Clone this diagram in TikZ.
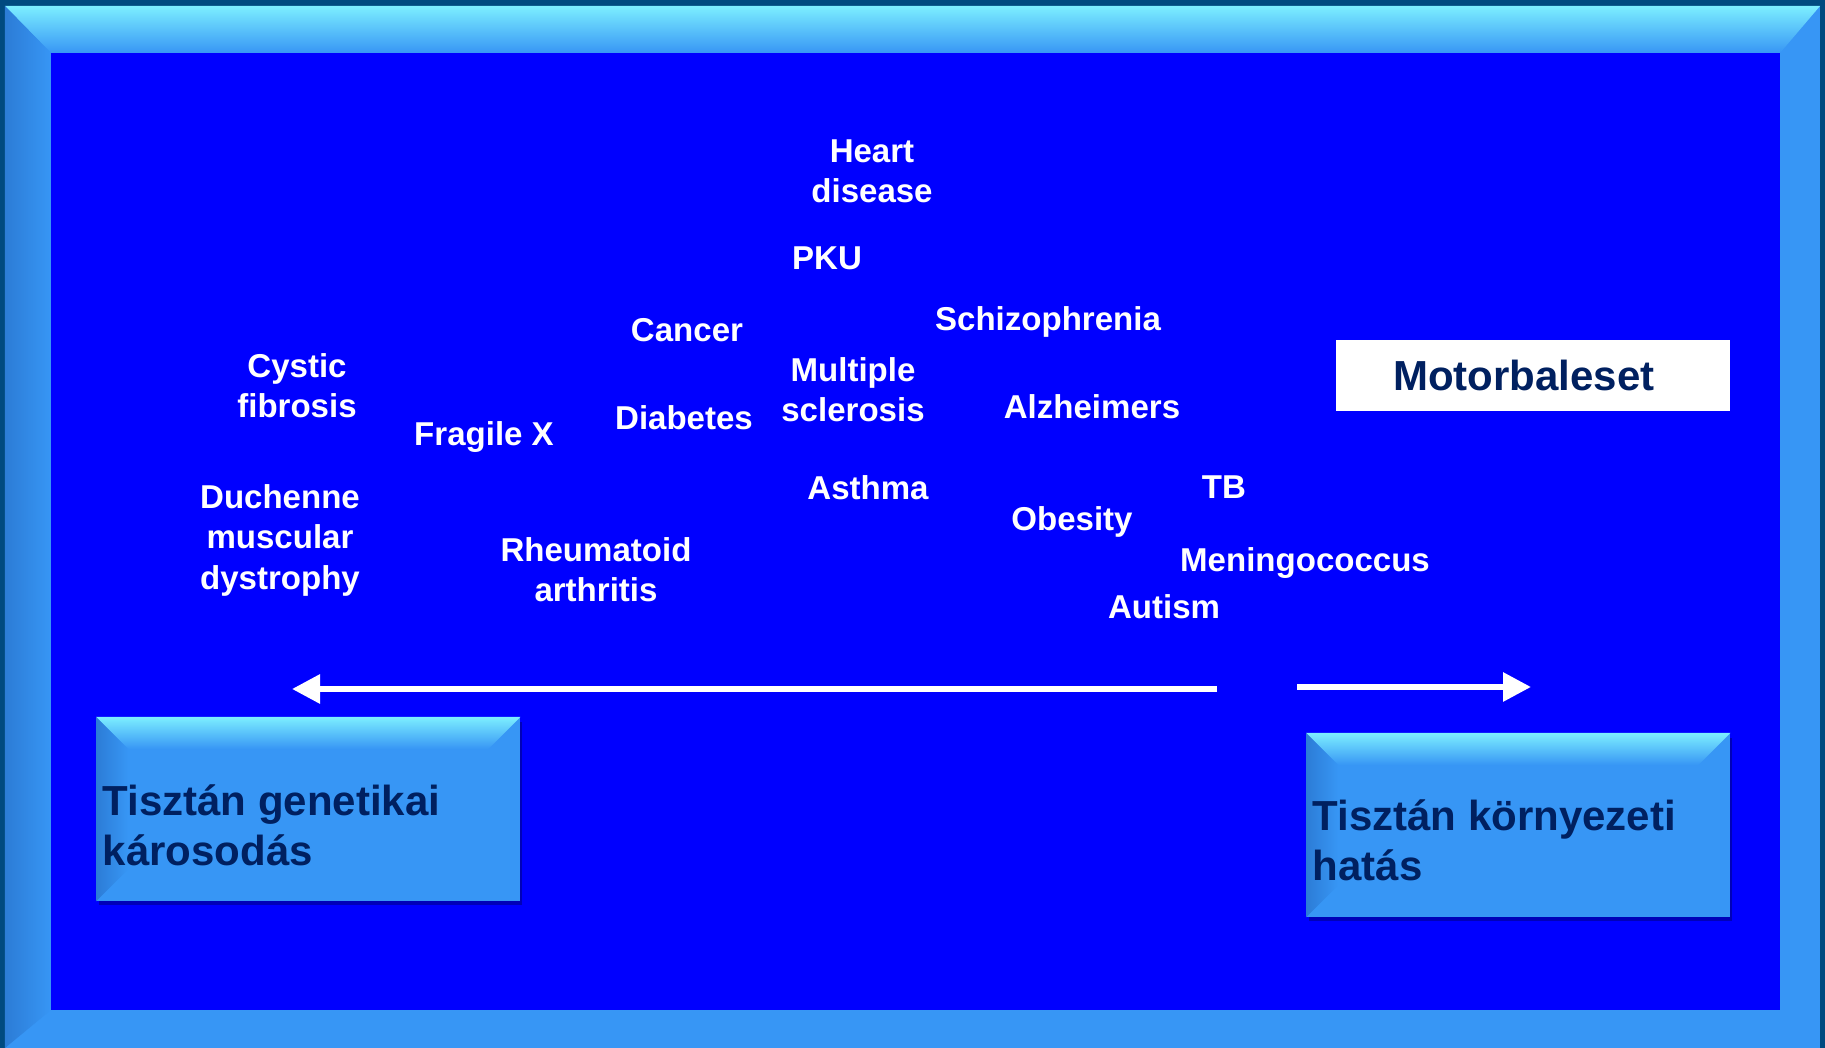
\documentclass[tikz,border=0pt]{standalone}
\usepackage{fontspec}
\setmainfont{Liberation Sans}
\usetikzlibrary{arrows.meta,calc,shadows}

\definecolor{bgblue}{HTML}{0000FF}
\definecolor{edgedark}{HTML}{004A80}
\definecolor{frameface}{HTML}{3796F5}
\definecolor{framelight}{HTML}{7CEEFF}
\definecolor{frameleft}{HTML}{2C7CD6}
\definecolor{navy}{HTML}{002060}

\begin{document}
\begin{tikzpicture}[x=0.1mm, y=-0.1mm,
    disease/.style={anchor=north, align=center, inner sep=0pt, text=white,
        font=\fontsize{9.4pt}{11.45pt}\selectfont\bfseries},
    boxtext/.style={anchor=north west, align=left, inner sep=0pt, text=navy,
        font=\fontsize{11.95pt}{14.3pt}\selectfont\bfseries},
    bevelbox/.style={anchor=north west, fill=frameface, inner sep=0pt,
        minimum width=42.3mm, minimum height=18.3mm,
        drop shadow={shadow xshift=0.2mm, shadow yshift=-0.4mm, fill=blue!45!black, opacity=0.5}},
    whitearrow/.style={draw=white, line width=0.6mm, -{Triangle[length=2.8mm, width=2.8mm]}}]
    \useasboundingbox (0,0) rectangle (1825,1048);

    % Frame
    \fill[edgedark] (0,0) rectangle (1825,1048);
    \fill[frameface] (5,6) rectangle (1820,1048);
    \shade[top color=framelight, bottom color=frameface] (5,6) -- (1820,6) -- (1780,53) -- (51,53) -- cycle;
    \shade[left color=frameleft, right color=frameface] (5,6) -- (51,53) -- (51,1010) -- (5,1048) -- cycle;
    \fill[bgblue] (51,53) rectangle (1780,1010);

    % Diseases
    \node (heart) [disease] at (872,139) {Heart\\disease};
    \node (pku) [disease] at (827,246) {PKU};
    \node (schizo) [disease] at (1048,306) {Schizophrenia};
    \node (cancer) [disease] at (687,318) {Cancer};
    \node (cystic) [disease] at (297,353) {Cystic\\fibrosis};
    \node (ms) [disease] at (853,357) {Multiple\\sclerosis};
    \node (alzheimer) [disease] at (1092,394) {Alzheimers};
    \node (diabetes) [disease] at (684,405) {Diabetes};
    \node (fragile) [disease] at (484,421) {Fragile X};
    \node (asthma) [disease] at (868,475) {Asthma};
    \node (tb) [disease] at (1224,475) {TB};
    \node (duchenne) [disease] at (280,484) {Duchenne\\muscular\\dystrophy};
    \node (obesity) [disease] at (1072,506) {Obesity};
    \node (rheuma) [disease] at (596,537) {Rheumatoid\\arthritis};
    \node (mening) [disease] at (1305,547) {Meningococcus};
    \node (autism) [disease] at (1164,594) {Autism};

    % Motorbaleset
    \node (motor) [fill=white, text=navy, minimum height=7.1mm, inner xsep=5.7mm,
        text width=28mm, align=left,
        font=\fontsize{11.95pt}{14.2pt}\selectfont\bfseries] at (1533,375.5) {Motorbaleset};

    % Arrows
    \coordinate (genstart) at (1217,689);
    \coordinate (genend) at (292,689);
    \coordinate (envstart) at (1297,687);
    \coordinate (envend) at (1531,687);
    \draw[whitearrow] (genstart) -- (genend);
    \draw[whitearrow] (envstart) -- (envend);

    % Genetic box
    \node (genbox) [bevelbox] at (96,717) {};
    \shade[top color=framelight, bottom color=frameface] (genbox.north west) -- (genbox.north east)
        -- ($(genbox.north east)+(-32,32)$) -- ($(genbox.north west)+(32,32)$) -- cycle;
    \shade[left color=frameleft, right color=frameface] (genbox.north west) -- ($(genbox.north west)+(32,32)$)
        -- ($(genbox.south west)+(32,-32)$) -- (genbox.south west) -- cycle;
    \node (gentext) [boxtext] at (102,784) {Tisztán genetikai\\károsodás};

    % Environmental box
    \node (envbox) [bevelbox] at (1306,733) {};
    \shade[top color=framelight, bottom color=frameface] (envbox.north west) -- (envbox.north east)
        -- ($(envbox.north east)+(-32,32)$) -- ($(envbox.north west)+(32,32)$) -- cycle;
    \shade[left color=frameleft, right color=frameface] (envbox.north west) -- ($(envbox.north west)+(32,32)$)
        -- ($(envbox.south west)+(32,-32)$) -- (envbox.south west) -- cycle;
    \node (envtext) [boxtext] at (1312,799) {Tisztán környezeti\\hatás};
\end{tikzpicture}
\end{document}
